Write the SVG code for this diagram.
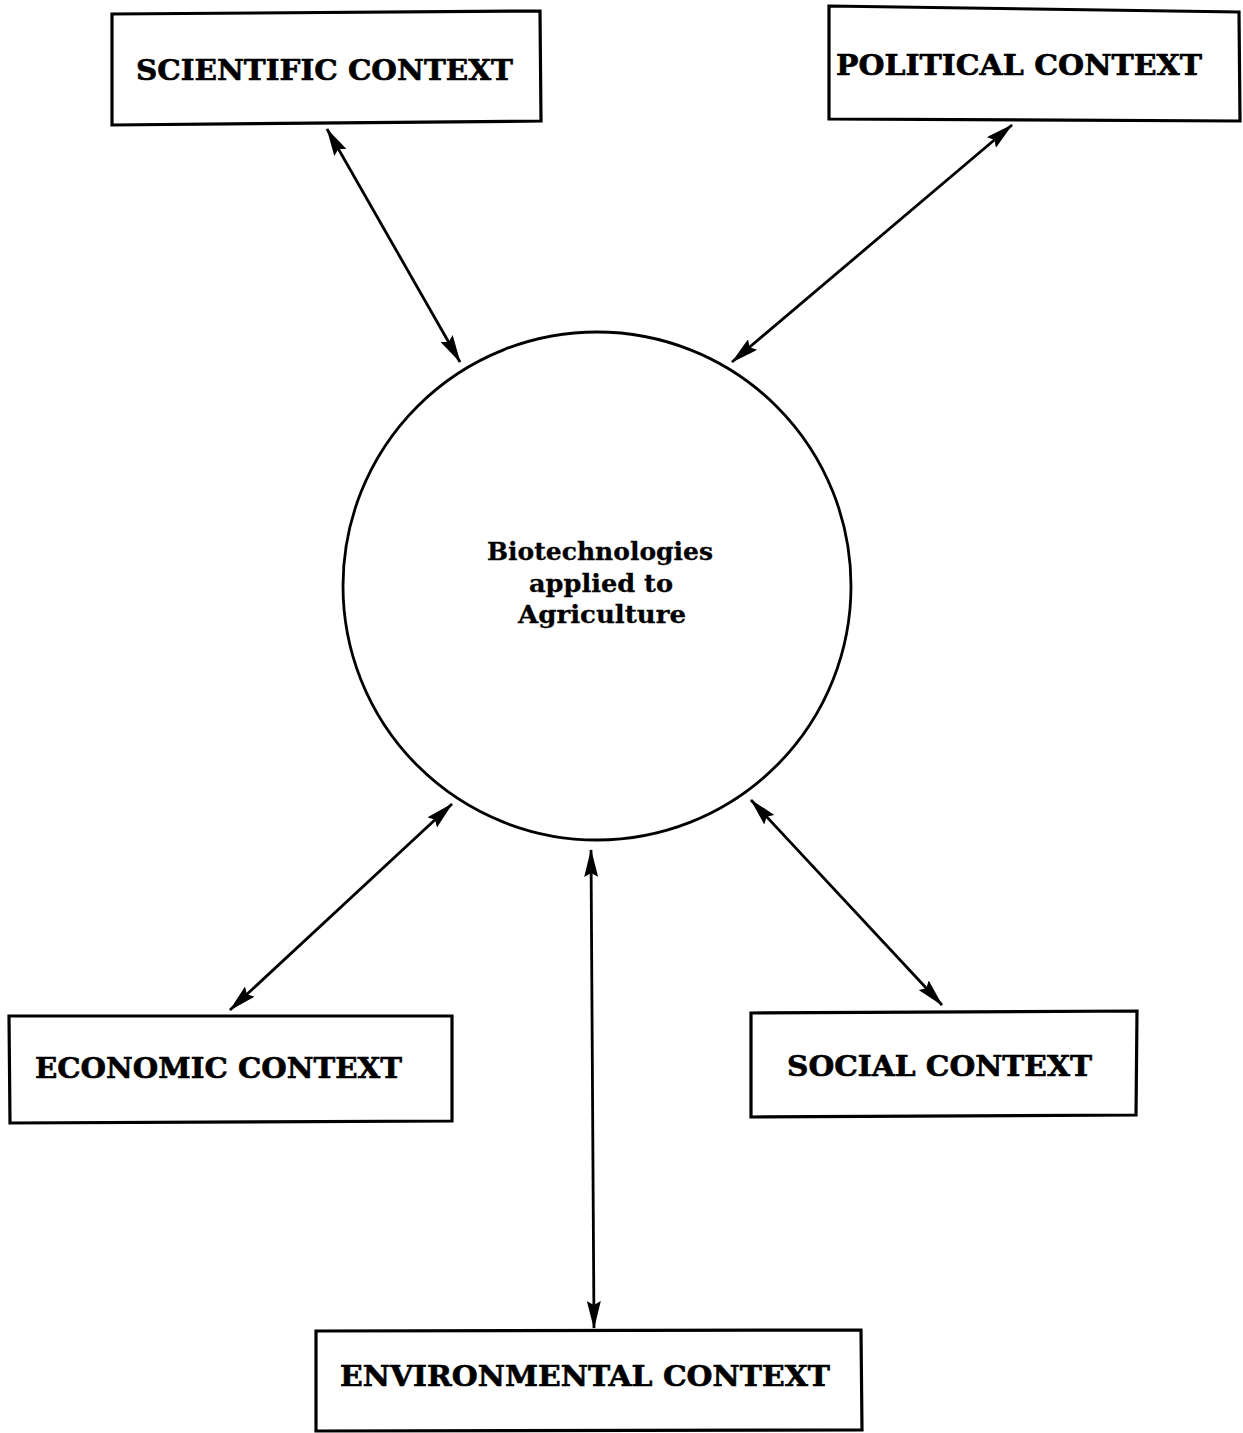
<svg xmlns="http://www.w3.org/2000/svg" width="1243" height="1433" viewBox="0 0 1243 1433">
<defs>
<style>
.box{fill:#fff;stroke:#000;stroke-width:3.2;stroke-linejoin:miter}
.lbl{font-family:"DejaVu Serif","Liberation Serif",serif;font-weight:bold;font-size:27px;fill:#000;stroke:#000;stroke-width:0.6}
.ctr{font-family:"DejaVu Serif","Liberation Serif",serif;font-weight:bold;font-size:25px;fill:#000;text-anchor:middle;stroke:#000;stroke-width:0.3}
.conn{stroke:#000;stroke-width:2.8;fill:none;marker-start:url(#ah);marker-end:url(#ah)}
</style>
<marker id="ah" viewBox="0 0 28 14" refX="27" refY="7" markerWidth="28" markerHeight="14" markerUnits="userSpaceOnUse" orient="auto-start-reverse">
<path d="M0,0 L28,7 L0,14 L4,7 z" fill="#000"/>
</marker>
</defs>
<rect width="1243" height="1433" fill="#fff"/>
<g id="connectors">
<line class="conn" x1="327" y1="129" x2="460" y2="362"/>
<line class="conn" x1="1012" y1="125" x2="732" y2="362"/>
<line class="conn" x1="452" y1="804" x2="230" y2="1010"/>
<line class="conn" x1="751" y1="800" x2="942" y2="1005"/>
<line class="conn" x1="591" y1="850" x2="594" y2="1328"/>
</g>
<g id="center">
<circle cx="597" cy="586" r="254" fill="none" stroke="#000" stroke-width="2.8"/>
<text class="ctr" x="600" y="560" textLength="226" lengthAdjust="spacingAndGlyphs">Biotechnologies</text>
<text class="ctr" x="601" y="592" textLength="144" lengthAdjust="spacingAndGlyphs">applied to</text>
<text class="ctr" x="602" y="623" textLength="168" lengthAdjust="spacingAndGlyphs">Agriculture</text>
</g>
<g id="scientific">
<path class="box" d="M112,14 L540,11 L541,121 L112,125 Z"/>
<text class="lbl" x="136" y="80" textLength="377" lengthAdjust="spacingAndGlyphs">SCIENTIFIC CONTEXT</text>
</g>
<g id="political">
<path class="box" d="M829,6 L1239,12 L1240,121 L829,119 Z"/>
<text class="lbl" x="836" y="75" textLength="366" lengthAdjust="spacingAndGlyphs">POLITICAL CONTEXT</text>
</g>
<g id="economic">
<path class="box" d="M9,1016 L452,1016 L452,1121 L10,1123 Z"/>
<text class="lbl" x="35" y="1078" textLength="367" lengthAdjust="spacingAndGlyphs">ECONOMIC CONTEXT</text>
</g>
<g id="social">
<path class="box" d="M751,1013 L1137,1011 L1136,1115 L751,1117 Z"/>
<text class="lbl" x="787" y="1076" textLength="305" lengthAdjust="spacingAndGlyphs">SOCIAL CONTEXT</text>
</g>
<g id="environmental">
<path class="box" d="M316,1331 L861,1330 L862,1430 L316,1431 Z"/>
<text class="lbl" x="340" y="1386" textLength="490" lengthAdjust="spacingAndGlyphs">ENVIRONMENTAL CONTEXT</text>
</g>
</svg>
